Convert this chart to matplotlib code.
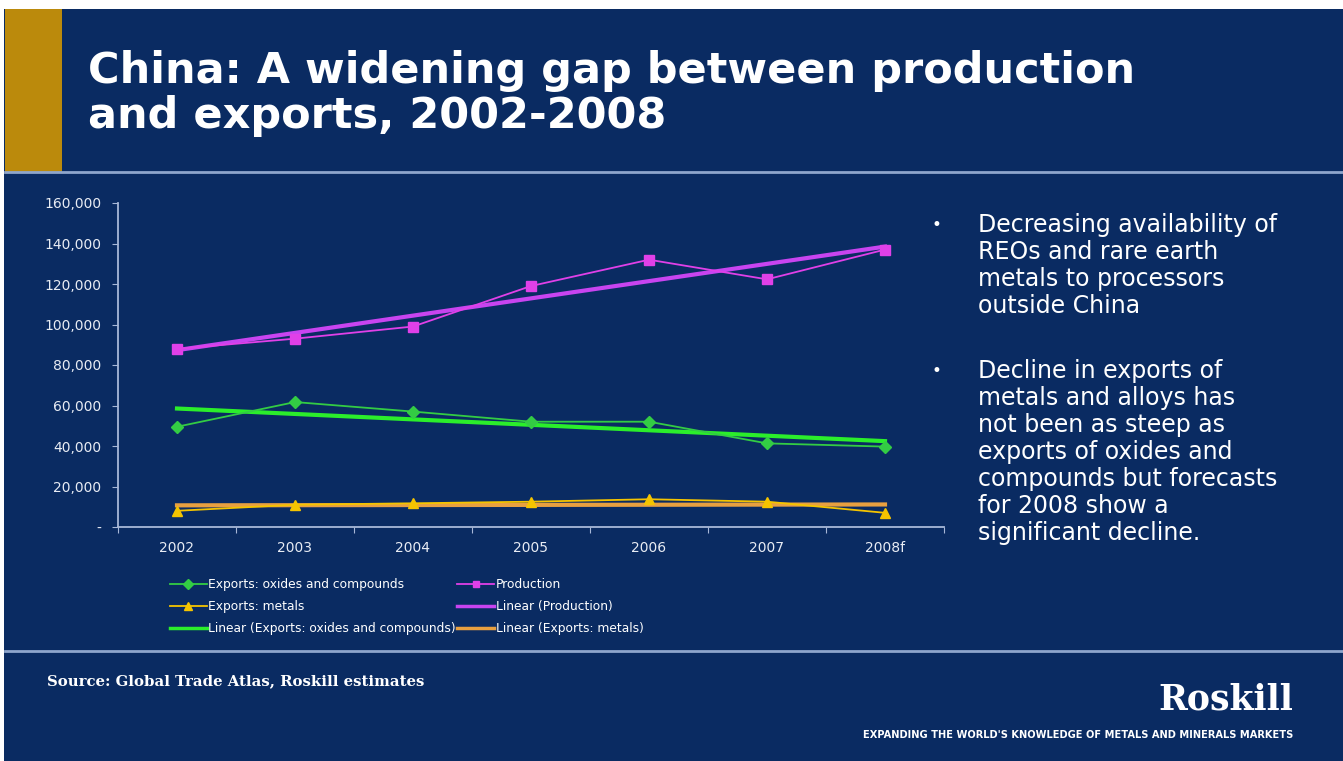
import numpy as np
import matplotlib
matplotlib.use("Agg")
import matplotlib.pyplot as plt
from matplotlib.lines import Line2D
from matplotlib.patches import Rectangle
from matplotlib.ticker import FuncFormatter

years = ["2002", "2003", "2004", "2005", "2006", "2007", "2008f"]
production = [88000, 93000, 99000, 119000, 132000, 122300, 137000]
exports_oxides = [49500, 61700, 57000, 52000, 52000, 41300, 39700]
exports_metals = [8000, 11000, 11700, 12500, 13700, 12500, 7000]

title_lines = ["China: A widening gap between production", "and exports, 2002-2008"]
bullets = [
    ["Decreasing availability of", "REOs and rare earth", "metals to processors",
     "outside China"],
    ["Decline in exports of", "metals and alloys has", "not been as steep as",
     "exports of oxides and", "compounds but forecasts", "for 2008 show a",
     "significant decline."],
]

W, H = 1343, 761
navy = "#0a2b62"
fig = plt.figure(figsize=(13.43, 7.61), dpi=100)
fig.patch.set_facecolor("white")

def fx(px):
    return px / W

def fy(py):
    return 1 - py / H

# slide background
fig.add_artist(Rectangle((fx(4), 0), 1, 1 - 9 / H, transform=fig.transFigure,
                         facecolor=navy, edgecolor="none", zorder=0))
fig.add_artist(Rectangle((fx(5), fy(172)), 57 / W, 163 / H,
                         transform=fig.transFigure, facecolor="#bb8a0c",
                         edgecolor="none", zorder=1))
for yy in (172, 651):
    fig.add_artist(Line2D([fx(5), 1], [fy(yy)] * 2, transform=fig.transFigure,
                          color="#8fa6cc", lw=2, zorder=1))

for i, line in enumerate(title_lines):
    fig.text(fx(88), fy(83 + 45 * i), line, color="white", fontsize=31,
             fontweight="bold", family="DejaVu Sans", va="baseline", ha="left")

ax = fig.add_axes([fx(118), fy(527), 826 / W, 324 / H])
ax.patch.set_alpha(0)

x = np.arange(len(years))
c_prod, c_prod_lin = "#e040e8", "#c844f0"
c_ox, c_ox_lin = "#33cc44", "#2bee2b"
c_met, c_met_lin = "#f5c400", "#e8a040"

def trend(vals):
    k, b = np.polyfit(x, vals, 1)
    return k * x + b

ax.plot(x, trend(production), color=c_prod_lin, lw=3, zorder=2)
ax.plot(x, trend(exports_oxides), color=c_ox_lin, lw=3, zorder=2)
ax.plot(x, trend(exports_metals), color=c_met_lin, lw=3, zorder=2)
ax.plot(x, production, color=c_prod, lw=1.3, marker="s", ms=7, zorder=3)
ax.plot(x, exports_oxides, color=c_ox, lw=1.3, marker="D", ms=6, zorder=3)
ax.plot(x, exports_metals, color=c_met, lw=1.3, marker="^", ms=7, zorder=3)

ax.set_xlim(-0.5, 6.5)
ax.set_ylim(0, 160000)
ax.set_yticks(np.arange(0, 160001, 20000))
ax.yaxis.set_major_formatter(FuncFormatter(lambda v, p: "-" if v == 0 else f"{int(v):,}"))
ax.set_xticks(np.arange(-0.5, 7, 1))
ax.set_xticklabels([])
ax.set_xticks(x, minor=True)
ax.set_xticklabels(years, minor=True)
ax.tick_params(axis="x", which="minor", length=0, pad=10, colors="#e8ecf4", labelsize=10)
ax.tick_params(axis="x", which="major", length=4, color="#a8b8d8", direction="out")
ax.tick_params(axis="y", length=4, color="#a8b8d8", colors="#e8ecf4", labelsize=10, pad=8)
for s in ("top", "right"):
    ax.spines[s].set_visible(False)
for s in ("left", "bottom"):
    ax.spines[s].set_color("#a8b8d8")
    ax.spines[s].set_linewidth(1.3)

handles = [
    Line2D([], [], color=c_ox, lw=1.3, marker="D", ms=5),
    Line2D([], [], color=c_met, lw=1.3, marker="^", ms=6),
    Line2D([], [], color=c_ox_lin, lw=2.5),
    Line2D([], [], color=c_prod, lw=1.3, marker="s", ms=5),
    Line2D([], [], color=c_prod_lin, lw=2.5),
    Line2D([], [], color=c_met_lin, lw=2.5),
]
labels = ["Exports: oxides and compounds", "Exports: metals",
          "Linear (Exports: oxides and compounds)", "Production",
          "Linear (Production)", "Linear (Exports: metals)"]
fig.legend(handles, labels, ncol=2, loc="upper left",
           bbox_to_anchor=(fx(165), fy(573)), frameon=False,
           labelcolor="white", fontsize=8.8, handlelength=3.0, handletextpad=0.15,
           columnspacing=0.1, labelspacing=0.74, borderaxespad=0)

starts = [225, 371]
for y0, lines in zip(starts, bullets):
    fig.text(fx(932), fy(y0), "\u2022", color="white", fontsize=12,
             family="DejaVu Sans", va="center")
    for j, line in enumerate(lines):
        fig.text(fx(978), fy(y0 + 27 * j), line, color="white", fontsize=17,
                 family="DejaVu Sans", va="center")

fig.text(fx(47), fy(681), "Source: Global Trade Atlas, Roskill estimates",
         color="white", fontsize=10.7, fontweight="bold", family="DejaVu Serif", va="center")
fig.text(fx(1293), fy(699), "Roskill", color="white", fontsize=25,
         fontweight="bold", family="DejaVu Serif", ha="right", va="center")
fig.text(fx(1293), fy(735),
         "EXPANDING THE WORLD'S KNOWLEDGE OF METALS AND MINERALS MARKETS",
         color="white", fontsize=7.1, fontweight="bold", family="DejaVu Sans",
         ha="right", va="center")

fig.savefig("out.png", dpi=100, facecolor=fig.get_facecolor())
